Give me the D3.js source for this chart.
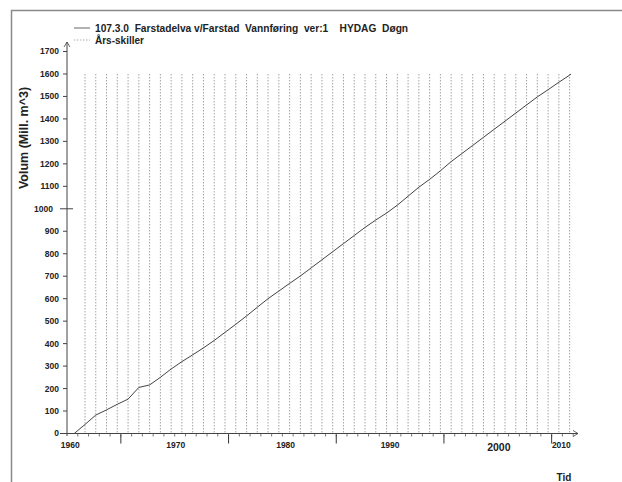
<!DOCTYPE html>
<html>
<head>
<meta charset="utf-8">
<script src="https://cdn.jsdelivr.net/npm/d3@7"></script>
<style>
  html, body { margin: 0; padding: 0; background: #fff; }
  svg { display: block; font-family: "Liberation Sans", Arial, sans-serif; }
  text { font-weight: bold; fill: #222; }
</style>
</head>
<body>
<svg id="chart" width="622" height="482"></svg>
<script>
// Cumulative volume, read at the start of each hydrological year (1 Sep)
const years = [1960.67, 1961.67, 1962.67, 1963.67, 1964.67, 1965.67, 1966.67, 1967.67, 1968.67, 1969.67,
  1970.67, 1971.67, 1972.67, 1973.67, 1974.67, 1975.67, 1976.67, 1977.67, 1978.67, 1979.67,
  1980.67, 1981.67, 1982.67, 1983.67, 1984.67, 1985.67, 1986.67, 1987.67, 1988.67, 1989.67,
  1990.67, 1991.67, 1992.67, 1993.67, 1994.67, 1995.67, 1996.67, 1997.67, 1998.67, 1999.67,
  2000.67, 2001.67, 2002.67, 2003.67, 2004.67, 2005.67, 2006.67, 2006.8];
const volume = [0, 40, 82, 105, 130, 153, 205, 216, 250, 287,
  320, 350, 381, 414, 450, 486, 523, 562, 600, 634,
  668, 701, 737, 773, 809, 845, 881, 917, 950, 981,
  1016, 1056, 1096, 1131, 1169, 1210, 1246, 1282, 1318, 1354,
  1390, 1426, 1462, 1498, 1530, 1563, 1595, 1600];

// Year separators (start of hydrological year)
const separators = d3.range(1961, 2007).map(y => y + 0.67);
const minorTicks = d3.range(1961, 2008);
const majorTicks = [1965, 1975, 1985, 1995, 2005];
const yearLabels = [
  { text: "1960", at: 1960.3 }, { text: "1970", at: 1970.1 }, { text: "1980", at: 1980.3 },
  { text: "1990", at: 1990.0 }, { text: "2000", at: 2000.1, big: true }, { text: "2010", at: 2005.9 }
];
const yTicks = d3.range(0, 1701, 100);

const legendTitle = "107.3.0  Farstadelva v/Farstad  Vannføring  ver:1    HYDAG  Døgn";
const legendSep = "Års-skiller";
const yTitle = "Volum (Mill. m^3)";
const xTitle = "Tid";

const svg = d3.select("#chart");

const x = d3.scaleLinear().domain([1960, 2010]).range([67, 605.5]);
const y = d3.scaleLinear().domain([0, 1700]).range([433.5, 51.5]);

// Outer frame
svg.append("path")
  .attr("d", "M11.5,482 V10.5 H622")
  .attr("fill", "none").attr("stroke", "#8a8a8a").attr("stroke-width", 1.5);

// Year separators
svg.append("g").selectAll("line").data(separators).join("line")
  .attr("x1", d => x(d)).attr("x2", d => x(d))
  .attr("y1", y(1600)).attr("y2", y(0))
  .attr("stroke", "#8c8c8c").attr("stroke-width", 0.8)
  .attr("stroke-dasharray", "1.5,1.5");

// Y axis
const yAxisG = svg.append("g");
yAxisG.append("line").attr("x1", 67).attr("x2", 67).attr("y1", 436).attr("y2", 42)
  .attr("stroke", "#444").attr("stroke-width", 1);
yAxisG.append("path").attr("d", "M64,47 L67,42 L70,47")
  .attr("fill", "none").attr("stroke", "#444").attr("stroke-width", 0.8);
yAxisG.selectAll("line.t").data(yTicks).join("line").attr("class", "t")
  .attr("x1", d => d === 1000 ? 60 : 63).attr("x2", d => d === 1000 ? 73 : 67)
  .attr("y1", d => y(d)).attr("y2", d => y(d))
  .attr("stroke", "#444").attr("stroke-width", 1);
yAxisG.selectAll("text").data(yTicks).join("text")
  .attr("x", d => d === 1000 ? 53 : 59).attr("y", d => y(d))
  .attr("dy", "0.35em").attr("text-anchor", "end")
  .attr("font-size", 8.5)
  .text(d => d);

// X axis
const xAxisG = svg.append("g");
xAxisG.append("line").attr("x1", 60).attr("x2", 578).attr("y1", y(0)).attr("y2", y(0))
  .attr("stroke", "#444").attr("stroke-width", 1);
xAxisG.append("path").attr("d", `M573,${y(0) - 3} L578,${y(0)} L573,${y(0) + 3}`)
  .attr("fill", "none").attr("stroke", "#444").attr("stroke-width", 0.8);
xAxisG.selectAll("line.minor").data(minorTicks).join("line").attr("class", "minor")
  .attr("x1", d => x(d)).attr("x2", d => x(d))
  .attr("y1", y(0)).attr("y2", y(0) + 3)
  .attr("stroke", "#555").attr("stroke-width", 0.8);
xAxisG.selectAll("line.major").data(majorTicks).join("line").attr("class", "major")
  .attr("x1", d => x(d)).attr("x2", d => x(d))
  .attr("y1", y(0) + 1).attr("y2", y(0) + 10)
  .attr("stroke", "#333").attr("stroke-width", 1);
xAxisG.selectAll("text").data(yearLabels).join("text")
  .attr("x", d => x(d.at)).attr("y", d => d.big ? 450.5 : 448)
  .attr("text-anchor", "middle")
  .attr("font-size", d => d.big ? 10.5 : 8.5)
  .text(d => d.text);

// Series line
const line = d3.line().x((d, i) => x(years[i])).y(d => y(d));
svg.append("path").datum(volume)
  .attr("d", line)
  .attr("fill", "none").attr("stroke", "#444").attr("stroke-width", 1);

// Legend
const leg = svg.append("g");
leg.append("line").attr("x1", 74).attr("x2", 90).attr("y1", 28).attr("y2", 28)
  .attr("stroke", "#666").attr("stroke-width", 1);
leg.append("text").attr("x", 95).attr("y", 31.5).attr("font-size", 10.2)
  .attr("xml:space", "preserve").style("white-space", "pre").text(legendTitle);
leg.append("line").attr("x1", 74).attr("x2", 90).attr("y1", 40).attr("y2", 40)
  .attr("stroke", "#999").attr("stroke-width", 0.8).attr("stroke-dasharray", "1.5,1.5");
leg.append("text").attr("x", 95).attr("y", 43.5).attr("font-size", 10).text(legendSep);

// Axis titles
svg.append("text")
  .attr("transform", "translate(28,138) rotate(-90)")
  .attr("text-anchor", "middle").attr("font-size", 12.5)
  .text(yTitle);
svg.append("text").attr("x", 564).attr("y", 481).attr("text-anchor", "middle")
  .attr("font-size", 10).text(xTitle);
</script>
</body>
</html>
